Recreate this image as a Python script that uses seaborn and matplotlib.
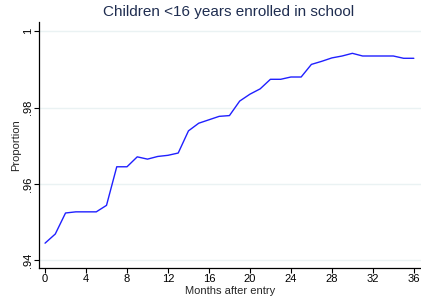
import matplotlib
matplotlib.use("Agg")
import matplotlib.pyplot as plt
import seaborn as sns
import pandas as pd

months = list(range(0, 37))
proportion = [0.9445, 0.9469, 0.9524, 0.9527, 0.9527, 0.9527, 0.9544, 0.9645, 0.9645, 0.9671,
              0.9665, 0.9672, 0.9675, 0.9681, 0.9739, 0.9759, 0.9768, 0.9777, 0.9779, 0.9817,
              0.9835, 0.9849, 0.9874, 0.9874, 0.9880, 0.9880, 0.9913, 0.9921, 0.9930, 0.9935,
              0.9942, 0.9935, 0.9935, 0.9935, 0.9935, 0.9929, 0.9929]
xticks = [0, 4, 8, 12, 16, 20, 24, 28, 32, 36]
yticks = [0.94, 0.96, 0.98, 1.0]
ytick_labels = [".94", ".96", ".98", "1"]
title = "Children <16 years enrolled in school"

df = pd.DataFrame({"month": months, "prop": proportion})

sns.set_style("white")
plt.rcParams["font.family"] = ["Liberation Sans", "DejaVu Sans"]

fig = plt.figure(figsize=(4.21, 3.02), dpi=100)
ax = fig.add_axes([39 / 421, 1 - 268 / 302, (421 - 39) / 421, (268 - 22) / 302])

sns.lineplot(data=df, x="month", y="prop", ax=ax, color="#2020ff", linewidth=1.0)

ax.set_xlim(-0.59, 36.7)
ax.set_ylim(0.938, 1.0024)
ax.set_xticks(xticks)
ax.set_xticklabels([str(v) for v in xticks], fontsize=8)
ax.set_yticks(yticks)
ax.set_yticklabels(ytick_labels, fontsize=8, rotation=90, va="center")
ax.yaxis.grid(True, color="#eaf2f3", linewidth=1.0)
ax.xaxis.grid(False)
ax.set_axisbelow(True)

for side in ["top", "right"]:
    ax.spines[side].set_visible(False)
for side in ["left", "bottom"]:
    ax.spines[side].set_color("black")
    ax.spines[side].set_linewidth(0.9)

ax.tick_params(axis="both", direction="out", length=3.5, width=0.8, color="black",
               left=True, bottom=True, labelcolor="black")
ax.tick_params(axis="y", pad=0.5)
ax.tick_params(axis="x", pad=1)
ax.set_xlabel("Months after entry", fontsize=8, labelpad=1)
ax.set_ylabel("Proportion", fontsize=8, labelpad=2)
fig.text(229 / 421, 1 - 12 / 302, title, fontsize=11, color="#1f2d50", ha="center", va="center")

fig.savefig("out.png", dpi=100, facecolor="white")
